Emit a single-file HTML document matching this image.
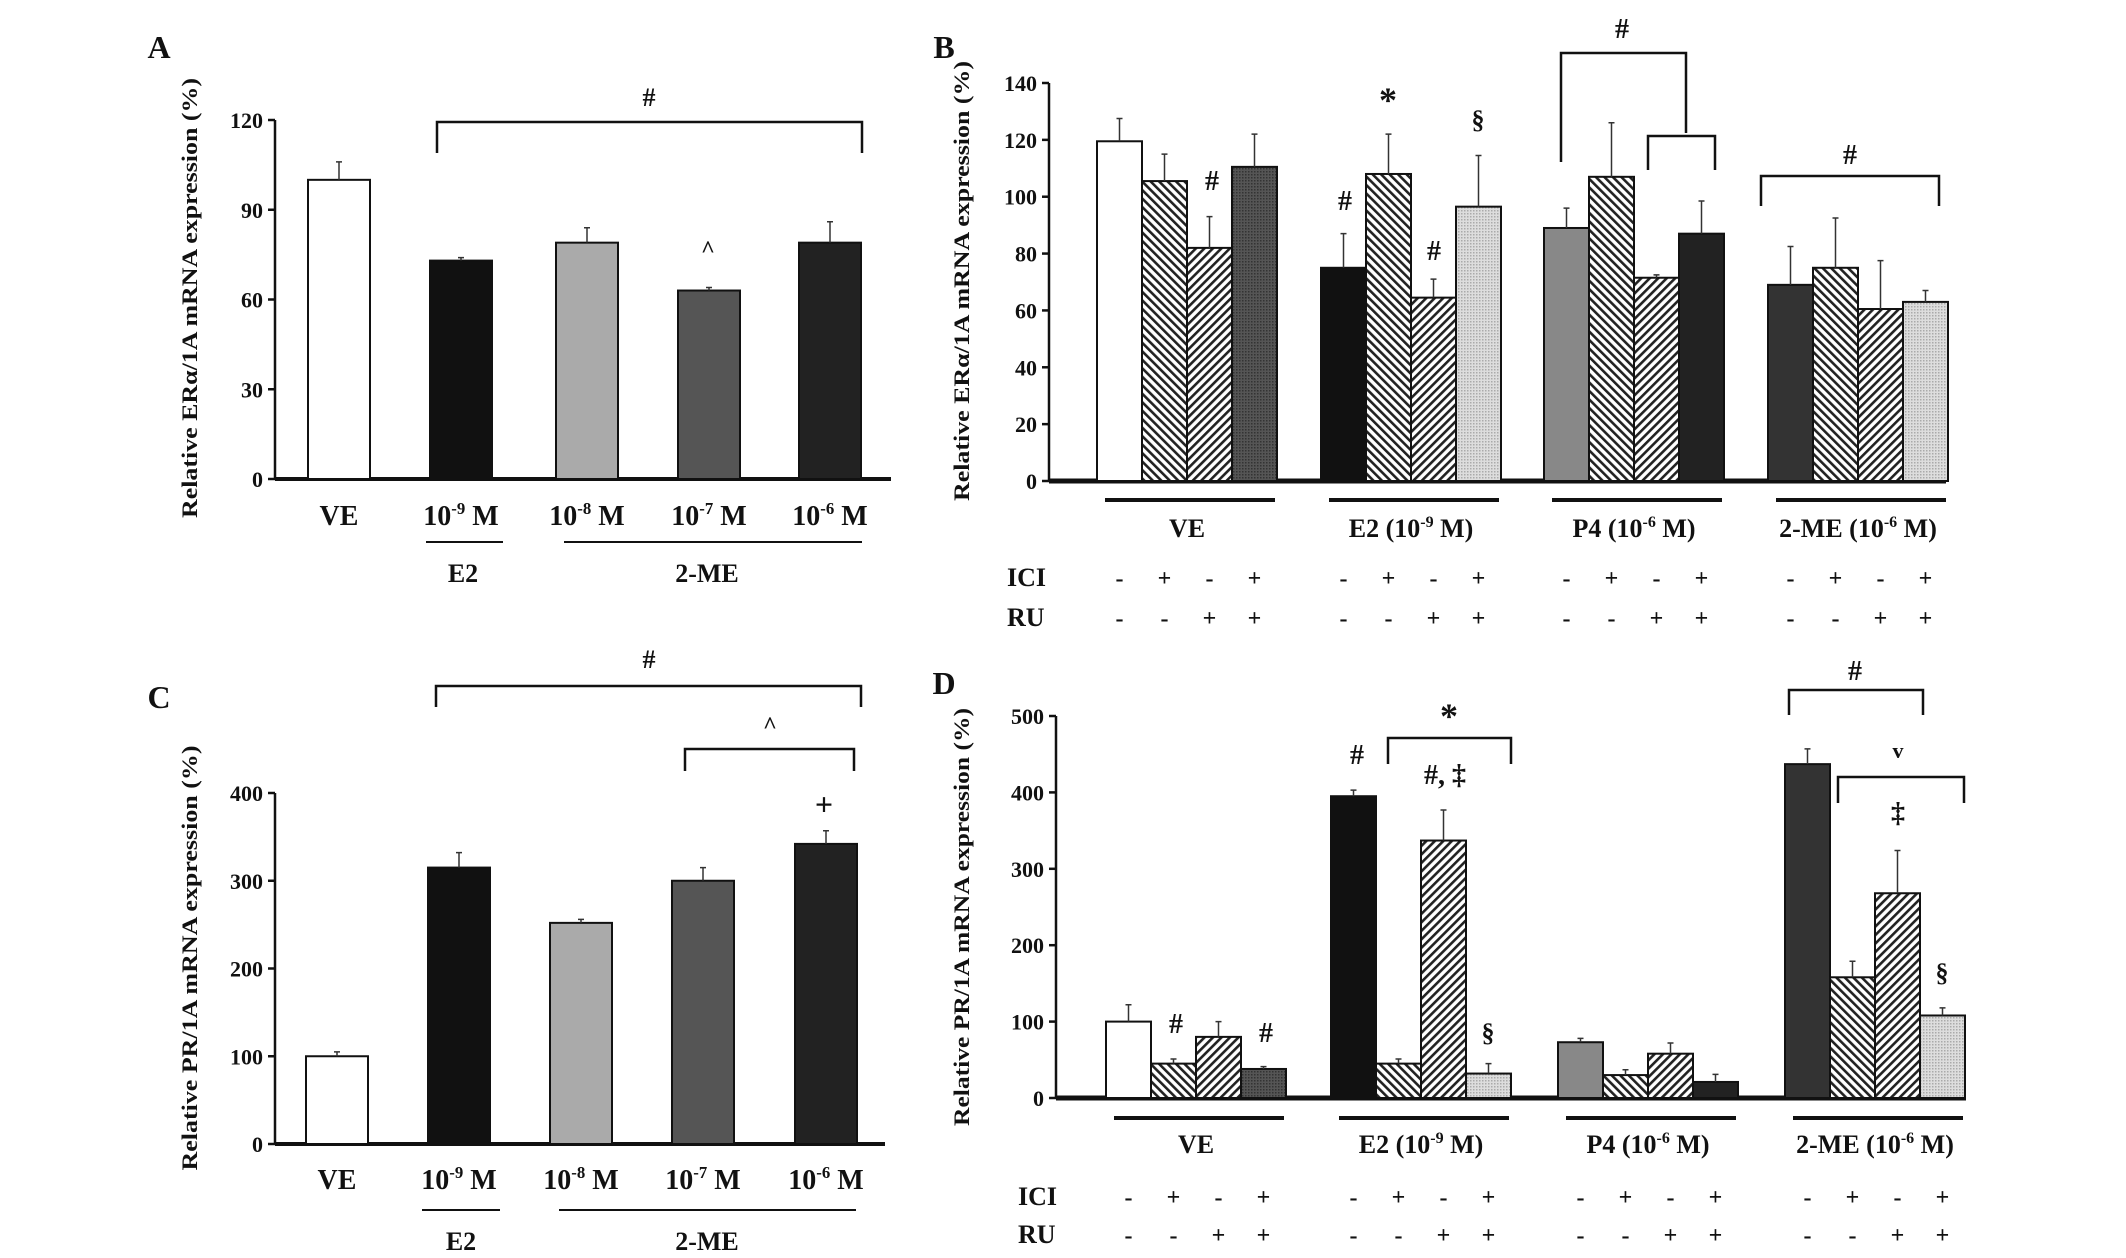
<!DOCTYPE html>
<html><head><meta charset="utf-8"><style>
html,body{margin:0;padding:0;background:#fff;}
svg{display:block;}
text{font-family:"Liberation Serif",serif;font-weight:bold;fill:#111;}
</style></head><body>
<svg id="fig" width="2126" height="1258" viewBox="0 0 2126 1258" xmlns="http://www.w3.org/2000/svg">
<defs>
<pattern id="h1" patternUnits="userSpaceOnUse" width="6" height="6" patternTransform="rotate(-45)"><rect width="6" height="6" fill="#fff"/><rect width="2.6" height="6" fill="#222"/></pattern>
<pattern id="h2" patternUnits="userSpaceOnUse" width="6" height="6" patternTransform="rotate(45)"><rect width="6" height="6" fill="#fff"/><rect width="2.6" height="6" fill="#222"/></pattern>
<pattern id="dd" patternUnits="userSpaceOnUse" width="3" height="3"><rect width="3" height="3" fill="#555"/><rect width="1.5" height="1.5" fill="#333"/></pattern>
<pattern id="ld" patternUnits="userSpaceOnUse" width="3" height="3"><rect width="3" height="3" fill="#ddd"/><rect width="1.5" height="1.5" fill="#aaa"/></pattern>
</defs>
</svg>
<script>
// ---- Panel A data ----
const catsA = ["VE","10-9","10-8","10-7","10-6"];
const valsA = [100, 73, 79, 63, 79];
const errA  = [106, 74, 84, 64, 86];
const ticksA = [0, 30, 60, 90, 120];
// ---- Panel C data ----
const valsC = [100, 315, 252, 300, 342];
const errC  = [105, 332, 256, 315, 357];
const ticksC = [0, 100, 200, 300, 400];
const fillsAC = ["#fff", "#111", "#aaa", "#555", "#222"];
// ---- Panel B data ----
const groupsBD = ["VE", "E2", "P4", "2-ME"];
const valsB = [[119.5,105.5,82,110.5],[75,108,64.5,96.5],[89,107,71.5,87],[69,75,60.5,63]];
const errB  = [[127.5,115,93,122],[87,122,71,114.5],[96,126,72.5,98.5],[82.5,92.5,77.5,67]];
const ticksB = [0,20,40,60,80,100,120,140];
// ---- Panel D data ----
const valsD = [[100,45,80,38],[395,45,337,32],[73,30,58,21],[437,158,268,108]];
const errD  = [[122,51,100,41],[403,51,377,45],[78,37,72,31],[457,179,324,118]];
const ticksD = [0,100,200,300,400,500];
const ici = ["-","+","-","+"];
const ru  = ["-","-","+","+"];
const fillsBD = [["#fff","url(#h1)","url(#h2)","url(#dd)"],["#111","url(#h1)","url(#h2)","url(#ld)"],["#888","url(#h1)","url(#h2)","#222"],["#333","url(#h1)","url(#h2)","url(#ld)"]];

const NS = "http://www.w3.org/2000/svg";
const svg = document.getElementById("fig");
function el(tag, attrs, parent, txt){
  const e = document.createElementNS(NS, tag);
  for (const k in attrs) e.setAttribute(k, attrs[k]);
  if (txt !== undefined) e.textContent = txt;
  (parent || svg).appendChild(e);
  return e;
}
function line(x1,y1,x2,y2,w,name){
  const l = el("line",{x1,y1,x2,y2,stroke:"#111","stroke-width":w});
  
  
  return l;
}
function txt(x,y,s,size,name,anchor){
  const t = el("text",{x,y,"font-size":size,"text-anchor":anchor||"middle"},svg,s);
  
  
  return t;
}
function conc(x,y,exp,size,name){
  const t = el("text",{x,y,"font-size":size,"text-anchor":"middle"});
  
  
  el("tspan",{},t,"10");
  el("tspan",{"font-size":size*0.6,dy:-size*0.4},t,exp);
  el("tspan",{dy:size*0.4},t," M");
  return t;
}
function bracket(x1,x2,top,leg1,leg2,name){
  const p = el("path",{d:`M${x1},${leg1} L${x1},${top} L${x2},${top} L${x2},${leg2}`,fill:"none",stroke:"#111","stroke-width":2.5});
  
  
}
function yTitle(x,y,s,len,name){
  const t = el("text",{x:0,y:0,"font-size":22,"text-anchor":"middle",transform:`translate(${x},${y}) rotate(-90)`,textLength:len,lengthAdjust:"spacingAndGlyphs"},svg,s);
  
  
}
function axis(ax, ticks, y, xEnd, xw, pre){
  line(ax, y(ticks[ticks.length-1]), ax, y(0), 2.5, pre+"-y-axis");
  ticks.forEach(v=>{
    line(ax-7, y(v), ax, y(v), 2.5, pre+"-y-tick");
    txt(ax-12, y(v)+8, String(v), 22, pre+"-y-tick-label", "end");
  });
  line(ax, y(0), xEnd, y(0), xw, pre+"-x-axis");
}
function bar(x,w,v,e,y,fill,name){
  const b = el("rect",{x,y:y(v),width:w,height:y(0)-y(v),fill,stroke:"#111","stroke-width":2});
  
  
  const cx = x + w/2;
  const eb = el("path",{d:`M${cx},${y(v)} L${cx},${y(e)} M${cx-3},${y(e)} L${cx+3},${y(e)}`,stroke:"#333","stroke-width":1.5,fill:"none"});
  
  
}

// ===== Panel A =====
(function(){
  const y0=479, y1=120, ax=275;
  const y = v => y0 - v/120*(y0-y1);
  txt(159, 58, "A", 32, "panel-a-label");
  yTitle(197, 298, "Relative ERα/1A mRNA expression (%)", 440, "panel-a-y-title");
  axis(ax, ticksA, y, 891, 4, "panel-a");
  const xs = [308, 430, 556, 678, 799];
  valsA.forEach((v,i)=> bar(xs[i], 62, v, errA[i], y, fillsAC[i], "panel-a-bar-"+catsA[i]));
  txt(339, 525, "VE", 28, "panel-a-x-label");
  ["-9","-8","-7","-6"].forEach((e,i)=> conc(xs[i+1]+31, 525, e, 28, "panel-a-x-label"));
  line(426,542,503,542,2,"panel-a-e2-underline");
  line(564,542,862,542,2,"panel-a-2me-underline");
  txt(463, 582, "E2", 26, "panel-a-group-e2");
  txt(707, 582, "2-ME", 26, "panel-a-group-2me");
  bracket(437, 862, 122, 153, 153, "panel-a-bracket");
  txt(649, 106, "#", 26, "panel-a-hash");
  txt(708, 257, "^", 24, "panel-a-caret");
})();

// ===== Panel C =====
(function(){
  const y0=1144, y1=793, ax=275;
  const y = v => y0 - v/400*(y0-y1);
  txt(159, 708, "C", 32, "panel-c-label");
  yTitle(197, 958, "Relative PR/1A mRNA expression (%)", 425, "panel-c-y-title");
  axis(ax, ticksC, y, 885, 4, "panel-c");
  const xs = [306, 428, 550, 672, 795];
  valsC.forEach((v,i)=> bar(xs[i], 62, v, errC[i], y, fillsAC[i], "panel-c-bar-"+catsA[i]));
  txt(337, 1189, "VE", 28, "panel-c-x-label");
  ["-9","-8","-7","-6"].forEach((e,i)=> conc(xs[i+1]+31, 1189, e, 28, "panel-c-x-label"));
  line(422,1210,500,1210,2,"panel-c-e2-underline");
  line(559,1210,856,1210,2,"panel-c-2me-underline");
  txt(461, 1250, "E2", 26, "panel-c-group-e2");
  txt(707, 1250, "2-ME", 26, "panel-c-group-2me");
  bracket(436, 861, 686, 707, 707, "panel-c-bracket-outer");
  txt(649, 668, "#", 26, "panel-c-hash");
  bracket(685, 854, 749, 771, 771, "panel-c-bracket-inner");
  txt(770, 733, "^", 24, "panel-c-caret");
  txt(824, 815, "+", 32, "panel-c-plus");
})();

// ===== Panels B & D shared =====
function groupPanel(p, vals, errs, ticks, y, ax, xEnd, gx, rows){
  axis(ax, ticks, y, xEnd, 5, p);
  const bw = 45;
  vals.forEach((g,gi)=> g.forEach((v,bi)=>{
    bar(gx[gi]+bi*bw, bw, v, errs[gi][bi], y, fillsBD[gi][bi], p+"-bar-"+groupsBD[gi]+"-"+(bi+1));
  }));
  gx.forEach((x,gi)=>{
    line(x+8, rows.ul, x+4*bw-2, rows.ul, 4, p+"-group-underline");
    const cx = x + 2*bw;
    if (gi===0) txt(cx, rows.gl, "VE", 26, p+"-group-label");
    else {
      const t = el("text",{x:cx,y:rows.gl,"font-size":26,"text-anchor":"middle"});
      
      
      const nm = ["","E2 (10","P4 (10","2-ME (10"][gi], ex = ["","-9","-6","-6"][gi];
      el("tspan",{},t,nm);
      el("tspan",{"font-size":16,dy:-10},t,ex);
      el("tspan",{dy:10},t," M)");
    }
    for (let bi=0; bi<4; bi++){
      const bx = x + bi*bw + bw/2;
      txt(bx, rows.ici, ici[bi], 24, p+"-ici-sign");
      txt(bx, rows.ru, ru[bi], 24, p+"-ru-sign");
    }
  });
  txt(rows.lx, rows.ici, "ICI", 26, p+"-ici-label", "start");
  txt(rows.lx, rows.ru, "RU", 26, p+"-ru-label", "start");
}

// ===== Panel B =====
(function(){
  const y0=481, y1=83, ax=1049;
  const y = v => y0 - v/140*(y0-y1);
  txt(944, 58, "B", 32, "panel-b-label");
  yTitle(969, 281, "Relative ERα/1A mRNA expression (%)", 440, "panel-b-y-title");
  groupPanel("panel-b", valsB, errB, ticksB, y, ax, 1946, [1097,1321,1544,1768],
    {ul:500, gl:537, ici:586, ru:626, lx:1007});
  txt(1212, 190, "#", 28, "panel-b-hash-ve");
  txt(1345, 210, "#", 28, "panel-b-hash-e2");
  txt(1388, 112, "*", 36, "panel-b-star");
  txt(1434, 260, "#", 28, "panel-b-hash-e2-ru");
  txt(1478, 128, "§", 26, "panel-b-section");
  bracket(1561, 1686, 53, 162, 133, "panel-b-bracket-p4-outer");
  bracket(1648, 1715, 136, 170, 170, "panel-b-bracket-p4-inner");
  txt(1622, 38, "#", 28, "panel-b-hash-p4");
  bracket(1761, 1939, 176, 206, 206, "panel-b-bracket-2me");
  txt(1850, 164, "#", 28, "panel-b-hash-2me");
})();

// ===== Panel D =====
(function(){
  const y0=1098, y1=716, ax=1056;
  const y = v => y0 - v/500*(y0-y1);
  txt(944, 694, "D", 32, "panel-d-label");
  yTitle(969, 917, "Relative PR/1A mRNA expression (%)", 418, "panel-d-y-title");
  groupPanel("panel-d", valsD, errD, ticksD, y, ax, 1966, [1106,1331,1558,1785],
    {ul:1118, gl:1153, ici:1205, ru:1243, lx:1018});
  txt(1176, 1033, "#", 28, "panel-d-hash-ve-ici");
  txt(1266, 1042, "#", 28, "panel-d-hash-ve-both");
  txt(1357, 764, "#", 28, "panel-d-hash-e2");
  bracket(1388, 1511, 738, 764, 764, "panel-d-bracket-e2");
  txt(1449, 728, "*", 36, "panel-d-star");
  txt(1445, 784, "#, ‡", 28, "panel-d-hash-dagger");
  txt(1488, 1041, "§", 26, "panel-d-section-e2");
  bracket(1789, 1923, 690, 715, 715, "panel-d-bracket-2me-outer");
  txt(1855, 680, "#", 28, "panel-d-hash-2me");
  bracket(1838, 1964, 777, 803, 803, "panel-d-bracket-2me-inner");
  txt(1898, 758, "v", 22, "panel-d-vee");
  txt(1898, 822, "‡", 28, "panel-d-dagger");
  txt(1942, 981, "§", 26, "panel-d-section-2me");
})();
</script>
</body></html>
